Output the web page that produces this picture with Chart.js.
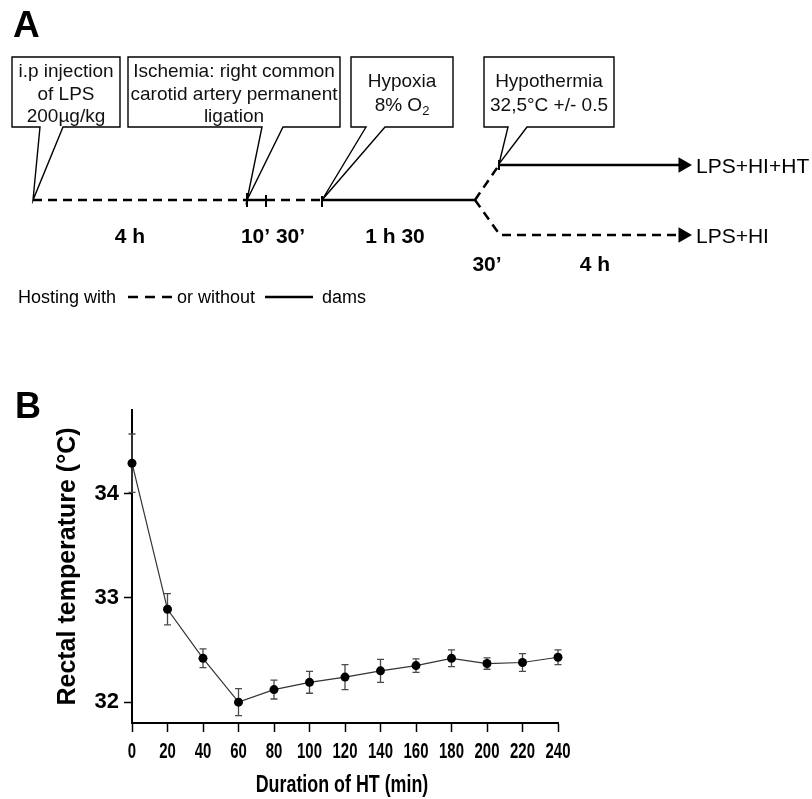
<!DOCTYPE html>
<html>
<head>
<meta charset="utf-8">
<script src="https://cdn.jsdelivr.net/npm/chart.js@4.4.1/dist/chart.umd.min.js"></script>
<style>
  html, body { margin: 0; padding: 0; background: #fff; }
  #figure { position: relative; width: 812px; height: 799px; }
  #figure canvas { position: absolute; left: 0; }
  #protocol-chart { top: 0; }
  #temperature-chart { top: 320px; }
</style>
</head>
<body>
<div id="figure">
  <canvas id="protocol-chart" width="812" height="320"></canvas>
  <canvas id="temperature-chart" width="812" height="479"></canvas>
</div>
<script>
// ---- panel B values ----
const htMinutes = [0, 20, 40, 60, 80, 100, 120, 140, 160, 180, 200, 220, 240];
const rectalTemp = [34.29, 32.89, 32.42, 32.00, 32.12, 32.19, 32.24, 32.30, 32.35, 32.42, 32.37, 32.38, 32.43];
const rectalSem = [0.28, 0.15, 0.09, 0.13, 0.09, 0.105, 0.12, 0.11, 0.065, 0.08, 0.055, 0.085, 0.07];
const tempTicks = [32, 33, 34];

// ---- panel A protocol (schematic units) ----
const calloutLabels = [
  ["i.p injection", "of LPS", "200µg/kg"],
  ["Ischemia: right common", "carotid artery permanent", "ligation"],
  ["Hypoxia", "8% O₂"],
  ["Hypothermia", "32,5°C +/- 0.5"],
];
const calloutBoxes = [[12, 57, 120, 127], [128, 57, 340, 127], [351, 57, 453, 127], [484, 57, 614, 127]];
const calloutPointers = [[40, 63, 33, 200], [262, 283, 247, 200], [366, 385, 322, 200], [508, 527, 499, 164]];
const calloutRows = [[77, 99.5, 122], [77, 99.5, 122], [87, 111], [87, 111]];

const dashedPaths = [
  [[33, 200], [247, 200]],
  [[266, 200], [322, 200]],
  [[475, 200], [499, 165]],
  [[475, 200], [500, 235], [683, 235]],
];
const solidPaths = [
  [[247, 200], [266, 200]],
  [[322, 200], [475, 200]],
  [[499, 165], [683, 165]],
];
const tickMarks = [[247, 193, 207], [266, 195, 207], [322, 196, 207], [499, 160, 170]];
const arrowTips = [[683, 165], [683, 235]];
const outcomeLabels = [["LPS+HI+HT", 696, 173], ["LPS+HI", 696, 243]];
const stageLabels = [["4 h", 130, 243], ["10’ 30’", 273, 243], ["1 h 30", 395, 243], ["30’", 487, 271], ["4 h", 595, 271]];
const legendWords = [["Hosting with", 18], ["or without", 177], ["dams", 322]];
const legendDashed = [[128, 297], [172, 297]];
const legendSolid = [[265, 297], [313, 297]];

(function () {
  const family = '"Liberation Sans", Arial, Helvetica, sans-serif';
  Chart.defaults.font.family = family;
  Chart.defaults.color = "#000";

  function pathDataset(points, dash, width) {
    return {
      data: points.map(function (p) { return { x: p[0], y: p[1] }; }),
      showLine: true,
      borderColor: "#000",
      borderWidth: width,
      borderDash: dash,
      borderJoinStyle: "miter",
      pointRadius: 0,
      tension: 0,
      fill: false,
      clip: false,
    };
  }

  function calloutPath(box, ptr) {
    const [x0, y0, x1, y1] = box;
    const [b1, b2, tx, ty] = ptr;
    const mid = (x0 + x1) / 2;
    return [[mid, y0], [x1, y0], [x1, y1], [b2, y1], [tx, ty], [b1, y1], [x0, y1], [x0, y0], [mid, y0]];
  }

  const protocolSets = [];
  calloutBoxes.forEach(function (box, i) {
    protocolSets.push(pathDataset(calloutPath(box, calloutPointers[i]), [], 1.4));
  });
  dashedPaths.forEach(function (p) { protocolSets.push(pathDataset(p, [9, 6], 2.5)); });
  solidPaths.forEach(function (p) { protocolSets.push(pathDataset(p, [], 2.5)); });
  tickMarks.forEach(function (t) { protocolSets.push(pathDataset([[t[0], t[1]], [t[0], t[2]]], [], 2)); });
  protocolSets.push(pathDataset(legendDashed, [10, 7], 2.5));
  protocolSets.push(pathDataset(legendSolid, [], 2.5));
  protocolSets.push({
    data: arrowTips.map(function (p) { return { x: p[0], y: p[1] }; }),
    showLine: false,
    pointStyle: "triangle",
    rotation: 90,
    pointRadius: 9,
    backgroundColor: "#000",
    borderWidth: 0,
    clip: false,
  });

  function drawLine(ctx, text, cx, base, font) {
    // handles the subscript in "O₂"
    const idx = text.indexOf("₂");
    if (idx < 0) {
      ctx.font = font;
      ctx.textAlign = "center";
      ctx.fillText(text, cx, base);
      return;
    }
    const main = text.slice(0, idx);
    ctx.font = font;
    const w1 = ctx.measureText(main).width;
    ctx.font = font.replace(/\d+px/, "13px");
    const w2 = ctx.measureText("2").width;
    const left = cx - (w1 + w2) / 2;
    ctx.textAlign = "left";
    ctx.font = font;
    ctx.fillText(main, left, base);
    ctx.font = font.replace(/\d+px/, "13px");
    ctx.fillText("2", left + w1, base + 4);
  }

  const protocolText = {
    id: "protocolText",
    afterDraw(chart) {
      const { ctx } = chart;
      const sx = chart.scales.x;
      const sy = chart.scales.y;
      const px = function (v) { return sx.getPixelForValue(v); };
      const py = function (v) { return sy.getPixelForValue(v); };
      ctx.save();
      ctx.fillStyle = "#000";
      ctx.textBaseline = "alphabetic";

      ctx.font = "bold 37px " + family;
      ctx.textAlign = "left";
      ctx.fillText("A", 13, 37);

      ctx.fillStyle = "#111";
      calloutLabels.forEach(function (lines, i) {
        const box = calloutBoxes[i];
        const cx = px((box[0] + box[2]) / 2);
        lines.forEach(function (line, j) {
          drawLine(ctx, line, cx, py(calloutRows[i][j]), "19px " + family);
        });
      });

      ctx.fillStyle = "#000";
      ctx.font = "bold 21px " + family;
      ctx.textAlign = "center";
      stageLabels.forEach(function (s) { ctx.fillText(s[0], px(s[1]), py(s[2])); });

      ctx.font = "21px " + family;
      ctx.textAlign = "left";
      outcomeLabels.forEach(function (s) { ctx.fillText(s[0], px(s[1]), py(s[2])); });

      ctx.font = "18px " + family;
      legendWords.forEach(function (s) { ctx.fillText(s[0], px(s[1]), py(303)); });
      ctx.restore();
    },
  };

  new Chart(document.getElementById("protocol-chart"), {
    type: "scatter",
    data: { datasets: protocolSets },
    options: {
      responsive: false,
      animation: false,
      events: [],
      layout: { padding: 0, autoPadding: false },
      plugins: { legend: { display: false }, tooltip: { enabled: false } },
      scales: {
        x: { type: "linear", min: 0, max: 812, display: false },
        y: { type: "linear", min: 0, max: 320, reverse: true, display: false },
      },
    },
    plugins: [protocolText],
  });

  // ---- panel B ----
  const errorBars = {
    id: "errorBars",
    beforeDatasetsDraw(chart) {
      const { ctx } = chart;
      const sx = chart.scales.x;
      const sy = chart.scales.y;
      ctx.save();
      ctx.strokeStyle = "#4a4a4a";
      ctx.lineWidth = 1.3;
      htMinutes.forEach(function (t, i) {
        const x = sx.getPixelForValue(t);
        const top = sy.getPixelForValue(rectalTemp[i] + rectalSem[i]);
        const bot = sy.getPixelForValue(rectalTemp[i] - rectalSem[i]);
        ctx.beginPath();
        ctx.moveTo(x, top); ctx.lineTo(x, bot);
        ctx.moveTo(x - 3.5, top); ctx.lineTo(x + 3.5, top);
        ctx.moveTo(x - 3.5, bot); ctx.lineTo(x + 3.5, bot);
        ctx.stroke();
      });
      ctx.restore();
    },
  };

  // x labels in the figure are a condensed bold face
  const condensedXAxis = {
    id: "condensedXAxis",
    afterDraw(chart) {
      const { ctx, chartArea } = chart;
      const sx = chart.scales.x;
      ctx.save();
      ctx.fillStyle = "#000";
      ctx.textAlign = "center";
      ctx.textBaseline = "alphabetic";
      ctx.font = "bold 22px " + family;
      htMinutes.forEach(function (t) {
        ctx.save();
        ctx.translate(sx.getPixelForValue(t), 438);
        ctx.scale(0.68, 1);
        ctx.fillText(String(t), 0, 0);
        ctx.restore();
      });
      ctx.font = "bold 23.5px " + family;
      ctx.translate((chartArea.left + chartArea.right) / 2 - 3, 471.5);
      ctx.scale(0.76, 1);
      ctx.fillText("Duration of HT (min)", 0, 0);
      ctx.restore();

      ctx.save();
      ctx.font = "bold 36px " + family;
      ctx.fillStyle = "#000";
      ctx.textAlign = "left";
      ctx.fillText("B", 15, 98);
      ctx.restore();
    },
  };

  const axisGrid = function (len) {
    return { drawOnChartArea: false, drawTicks: true, tickLength: len, tickColor: "#000", tickWidth: 1.5 };
  };

  new Chart(document.getElementById("temperature-chart"), {
    type: "scatter",
    data: {
      datasets: [{
        data: htMinutes.map(function (t, i) { return { x: t, y: rectalTemp[i] }; }),
        showLine: true,
        borderColor: "#333",
        borderWidth: 1.2,
        tension: 0,
        pointRadius: 4.5,
        pointBackgroundColor: "#000",
        pointBorderWidth: 0,
        clip: false,
      }],
    },
    options: {
      responsive: false,
      animation: false,
      events: [],
      layout: { padding: { left: 50, right: 254, top: 90, bottom: 0 } },
      plugins: { legend: { display: false }, tooltip: { enabled: false } },
      scales: {
        x: {
          type: "linear",
          min: 0,
          max: 240,
          afterBuildTicks: function (s) { s.ticks = htMinutes.map(function (v) { return { value: v }; }); },
          afterFit: function (s) { s.height = 76; },
          grid: axisGrid(9),
          border: { color: "#000", width: 2 },
          ticks: { display: false },
        },
        y: {
          type: "linear",
          min: 31.8,
          max: 34.8,
          afterBuildTicks: function (s) { s.ticks = tempTicks.map(function (v) { return { value: v }; }); },
          afterFit: function (s) { s.width = 82; },
          grid: axisGrid(8),
          border: { color: "#000", width: 2 },
          ticks: { color: "#000", padding: 5, font: { size: 22, weight: "bold" } },
          title: {
            display: true,
            text: "Rectal temperature (°C)",
            color: "#000",
            font: { size: 25, weight: "bold" },
            padding: { top: 3, bottom: 0 },
          },
        },
      },
    },
    plugins: [errorBars, condensedXAxis],
  });
}());
</script>
</body>
</html>
